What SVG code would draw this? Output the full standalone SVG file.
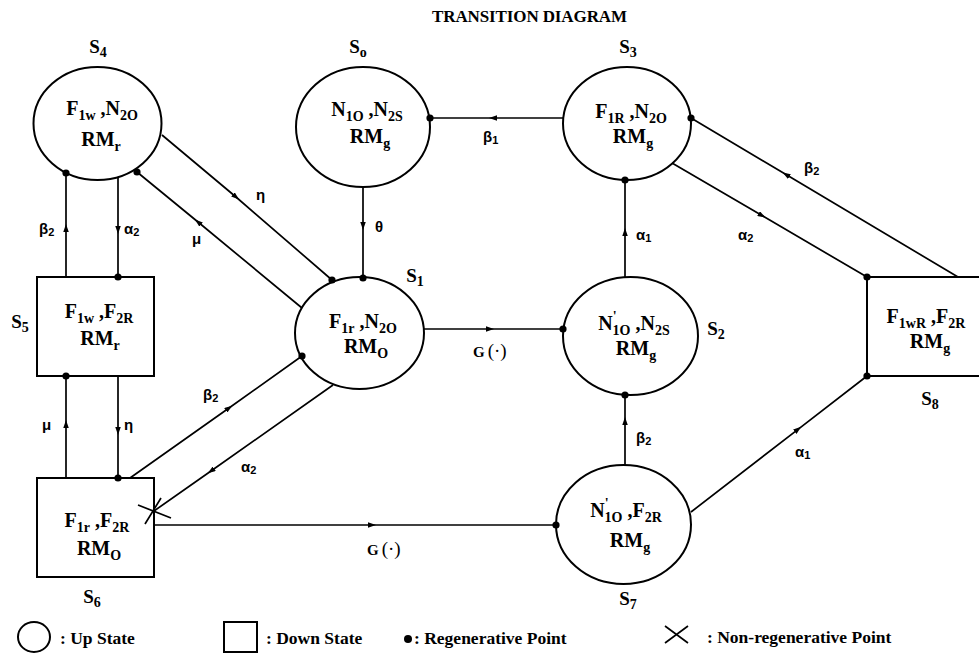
<svg xmlns="http://www.w3.org/2000/svg" width="979" height="654" viewBox="0 0 979 654">
<defs>
<marker id="ah" viewBox="0 0 8 5" refX="4" refY="2.5" markerWidth="8" markerHeight="5.5" markerUnits="userSpaceOnUse" orient="auto" preserveAspectRatio="none"><path d="M0,0 L8,2.5 L0,5 z" fill="#000"/></marker>
<style>
.shape{fill:#fff;stroke:#000;stroke-width:2}
.ln{fill:none;stroke:#000;stroke-width:1.7;marker-mid:url(#ah)}
.dot{fill:#000}
.nt{font-family:"Liberation Serif","Times New Roman",serif;font-weight:bold;font-size:20px;text-anchor:middle;fill:#000}
.sb{font-size:14px}
.sl{font-family:"Liberation Serif","Times New Roman",serif;font-weight:bold;font-size:19px;text-anchor:middle;fill:#000}
.ss{font-size:14px}
.gl{font-family:"Liberation Sans",Arial,sans-serif;font-weight:bold;font-size:15px;fill:#000}
.gs{font-size:11px}
.gf{font-family:"Liberation Serif","Times New Roman",serif;font-weight:bold;font-size:15px;fill:#000}
.gp{font-size:19px;font-weight:normal}
.lg{font-family:"Liberation Serif","Times New Roman",serif;font-weight:bold;font-size:17.5px;fill:#000}
.ttl{font-family:"Liberation Serif","Times New Roman",serif;font-weight:bold;font-size:17px;fill:#000}
</style>
</defs>
<rect width="979" height="654" fill="#fff"/>
<text class="ttl" x="432" y="22" textLength="195">TRANSITION DIAGRAM</text>

<g id="S4">
<ellipse class="shape" cx="97.5" cy="123.5" rx="64" ry="56.5"/>
<text class="nt" x="102" y="115">F<tspan class="sb" dy="5">1w</tspan><tspan dy="-5"> ,N</tspan><tspan class="sb" dy="5">2O</tspan></text>
<text class="nt" x="101" y="146">RM<tspan class="sb" dy="5">r</tspan></text>
<text class="sl" x="98" y="53">S<tspan class="ss" dy="4">4</tspan></text>
</g>

<g id="S0">
<ellipse class="shape" cx="363" cy="127" rx="67" ry="60"/>
<text class="nt" x="367" y="116">N<tspan class="sb" dy="5">1O</tspan><tspan dy="-5"> ,N</tspan><tspan class="sb" dy="5">2S</tspan></text>
<text class="nt" x="370" y="143">RM<tspan class="sb" dy="5">g</tspan></text>
<text class="sl" x="358" y="53">S<tspan class="ss" dy="4">o</tspan></text>
</g>

<g id="S3">
<ellipse class="shape" cx="627" cy="123.5" rx="64" ry="56.5"/>
<text class="nt" x="631" y="118">F<tspan class="sb" dy="5">1R</tspan><tspan dy="-5"> ,N</tspan><tspan class="sb" dy="5">2O</tspan></text>
<text class="nt" x="633" y="143">RM<tspan class="sb" dy="5">g</tspan></text>
<text class="sl" x="628" y="53">S<tspan class="ss" dy="4">3</tspan></text>
</g>

<g id="S1">
<ellipse class="shape" cx="359.5" cy="333" rx="64.5" ry="56"/>
<text class="nt" x="363" y="328">F<tspan class="sb" dy="5">1r</tspan><tspan dy="-5"> ,N</tspan><tspan class="sb" dy="5">2O</tspan></text>
<text class="nt" x="366" y="353">RM<tspan class="sb" dy="5">O</tspan></text>
<text class="sl" x="415" y="282">S<tspan class="ss" dy="4">1</tspan></text>
</g>

<g id="S2">
<ellipse class="shape" cx="630.5" cy="336" rx="67.5" ry="59"/>
<text class="nt" x="634" y="330">N<tspan class="sb" dy="-9">'</tspan><tspan class="sb" dx="-4" dy="14">1O</tspan><tspan dy="-5"> ,N</tspan><tspan class="sb" dy="5">2S</tspan></text>
<text class="nt" x="636" y="355">RM<tspan class="sb" dy="5">g</tspan></text>
<text class="sl" x="716" y="335">S<tspan class="ss" dy="4">2</tspan></text>
</g>

<g id="S7">
<ellipse class="shape" cx="623.5" cy="524.5" rx="67.5" ry="59.5"/>
<text class="nt" x="626" y="517">N<tspan class="sb" dy="-9">'</tspan><tspan class="sb" dx="-4" dy="14">1O</tspan><tspan dy="-5"> ,F</tspan><tspan class="sb" dy="5">2R</tspan></text>
<text class="nt" x="630" y="547">RM<tspan class="sb" dy="5">g</tspan></text>
<text class="sl" x="628" y="605">S<tspan class="ss" dy="4">7</tspan></text>
</g>

<g id="S5">
<rect class="shape" x="37" y="277" width="117" height="99"/>
<text class="nt" x="99" y="318">F<tspan class="sb" dy="5">1w</tspan><tspan dy="-5"> ,F</tspan><tspan class="sb" dy="5">2R</tspan></text>
<text class="nt" x="100" y="345">RM<tspan class="sb" dy="5">r</tspan></text>
<text class="sl" x="20" y="328">S<tspan class="ss" dy="4">5</tspan></text>
</g>

<g id="S6">
<rect class="shape" x="37" y="478" width="117" height="99"/>
<text class="nt" x="97" y="527">F<tspan class="sb" dy="5">1r</tspan><tspan dy="-5"> ,F</tspan><tspan class="sb" dy="5">2R</tspan></text>
<text class="nt" x="99" y="555">RM<tspan class="sb" dy="5">O</tspan></text>
<text class="sl" x="92" y="603">S<tspan class="ss" dy="4">6</tspan></text>
</g>

<g id="S8">
<rect class="shape" x="867" y="277" width="125" height="99"/>
<text class="nt" x="926" y="323">F<tspan class="sb" dy="5">1wR</tspan><tspan dy="-5"> ,F</tspan><tspan class="sb" dy="5">2R</tspan></text>
<text class="nt" x="930" y="348">RM<tspan class="sb" dy="5">g</tspan></text>
<text class="sl" x="930" y="405">S<tspan class="ss" dy="4">8</tspan></text>
</g>

<g id="connectors">
<polyline class="ln" points="563,118 493,118 430,118"/>
<polyline class="ln" points="363,187 363,226 363,279"/>
<polyline class="ln" points="162,135 236,197 332,280"/>
<polyline class="ln" points="302,308 198,222 137,172"/>
<polyline class="ln" points="66,277 66,228 66,173"/>
<polyline class="ln" points="118,177 118,230 118,277"/>
<polyline class="ln" points="66,478 66,424 66,376"/>
<polyline class="ln" points="118,376 118,431 118,478"/>
<polyline class="ln" points="130,478 229,408 302,356"/>
<polyline class="ln" points="333,385 211,471 154,511"/>
<polyline class="ln" points="154,525 372,525 556,525"/>
<polyline class="ln" points="424,329 490,329 563,329"/>
<polyline class="ln" points="625,277 625,232 625,180"/>
<polyline class="ln" points="625,465 625,421 625,395"/>
<polyline class="ln" points="672,163 762,215.6 867,277"/>
<polyline class="ln" points="958,277 786,174.6 691,118"/>
<polyline class="ln" points="691,512 798,429.3 867,376"/>
<g class="dot">
<circle cx="430" cy="118" r="3.6"/>
<circle cx="363" cy="278" r="3.6"/>
<circle cx="332" cy="280" r="3.6"/>
<circle cx="137" cy="172" r="3.6"/>
<circle cx="66" cy="173" r="3.6"/>
<circle cx="118" cy="277" r="3.6"/>
<circle cx="66" cy="376" r="3.6"/>
<circle cx="118" cy="478" r="3.6"/>
<circle cx="302" cy="356" r="3.6"/>
<circle cx="556" cy="525" r="3.6"/>
<circle cx="563" cy="329" r="3.6"/>
<circle cx="625" cy="180" r="3.6"/>
<circle cx="625" cy="395" r="3.6"/>
<circle cx="867" cy="277" r="3.6"/>
<circle cx="691" cy="118" r="3.6"/>
<circle cx="867" cy="376" r="3.6"/>
</g>
<path d="M138,505 L171,518 M145,524 L161,498" stroke="#000" stroke-width="1.7" fill="none"/>
<g class="gl">
<text x="483" y="142">β<tspan class="gs" dy="2">1</tspan></text>
<text x="375" y="232">θ</text>
<text x="256" y="200">η</text>
<text x="192" y="244">μ</text>
<text x="39" y="234">β<tspan class="gs" dy="2">2</tspan></text>
<text x="124" y="234">α<tspan class="gs" dy="2">2</tspan></text>
<text x="42" y="430">μ</text>
<text x="124" y="430">η</text>
<text x="203" y="400">β<tspan class="gs" dy="2">2</tspan></text>
<text x="241" y="472">α<tspan class="gs" dy="2">2</tspan></text>
<text x="636" y="240">α<tspan class="gs" dy="2">1</tspan></text>
<text x="738" y="240">α<tspan class="gs" dy="2">2</tspan></text>
<text x="804" y="173">β<tspan class="gs" dy="2">2</tspan></text>
<text x="636" y="443">β<tspan class="gs" dy="2">2</tspan></text>
<text x="795" y="457">α<tspan class="gs" dy="2">1</tspan></text>
</g>
<text class="gf" x="367" y="555">G<tspan class="gp" dx="3">(·)</tspan></text>
<text class="gf" x="473" y="357">G<tspan class="gp" dx="3">(·)</tspan></text>
</g>

<g id="legend">
<ellipse class="shape" cx="34" cy="637" rx="16" ry="15"/>
<text class="lg" x="60" y="644">: Up State</text>
<rect class="shape" x="224" y="622" width="33" height="30"/>
<text class="lg" x="266" y="644">: Down State</text>
<circle class="dot" cx="408" cy="639" r="4"/>
<text class="lg" x="414" y="644">: Regenerative Point</text>
<path d="M665,626 L688,643 M665,643 L688,626" stroke="#000" stroke-width="1.7" fill="none"/>
<text class="lg" x="707" y="643">: Non-regenerative Point</text>
</g>
</svg>
